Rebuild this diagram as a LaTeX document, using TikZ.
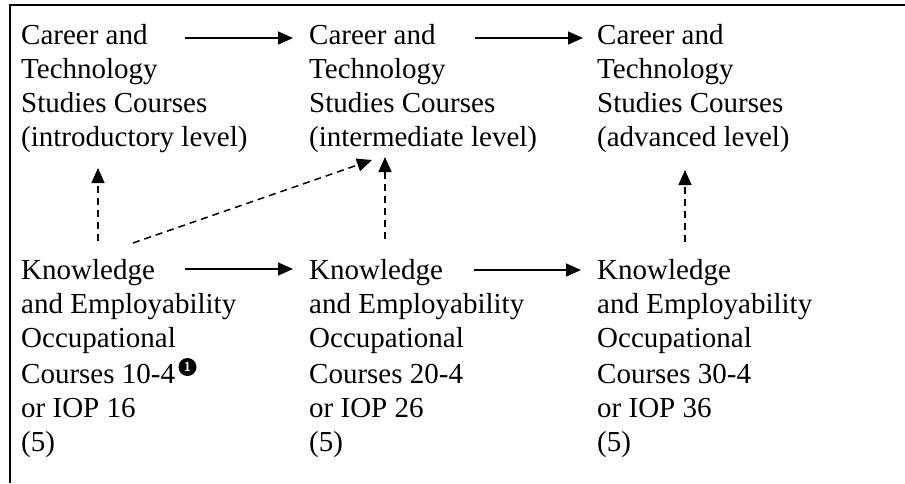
\documentclass[tikz,border=0pt]{standalone}
\usepackage{fontspec}
\setmainfont{Liberation Serif}
\usetikzlibrary{calc}
\usetikzlibrary{arrows.meta}

\begin{document}
\begin{tikzpicture}[x=1pt,y=-1pt,
  >={Triangle[length=15pt,width=13pt]},
  every node/.style={inner sep=0pt, align=left, anchor=base west,
    font=\fontsize{29}{34}\selectfont}]
\useasboundingbox (0,0) rectangle (905,483);
\draw[line width=1.8pt] (905,5.3) -- (9.8,5.3) -- (9.8,483);
% base anchor sits on the last line
\foreach \c/\x/\lvl in {1/21/introductory, 2/309/intermediate, 3/597/advanced} {
 \node (cts\c) at (\x,146) {Career and\\Technology\\Studies Courses\\(\lvl\ level)};
 \node (kes\c) at (\x,451) {Knowledge\\and Employability\\Occupational\\[2pt]Courses \c0-4\\or IOP \c6\\(5)};
}
\node[circle, fill=black, minimum size=18pt, anchor=center, text=white,
  font=\fontsize{13}{13}\sffamily\bfseries] (note) at (187.5,367) {1};
% solid arrows
\coordinate (h1a) at (185,38);  \coordinate (h1b) at (293,38);
\coordinate (h2a) at (475,38);  \coordinate (h2b) at (583,38);
\coordinate (h3a) at (185,269); \coordinate (h3b) at (293,269);
\coordinate (h4a) at (474,270); \coordinate (h4b) at (581,270);
\foreach \i in {1,...,4}
 \draw[line width=1.5pt, ->] (h\i a) -- (h\i b);
% dashed arrows
\coordinate (v1a) at (98,241);  \coordinate (v1b) at (98,168);
\coordinate (v2a) at (385,239); \coordinate (v2b) at (385,157);
\coordinate (v3a) at (685,242); \coordinate (v3b) at (685,170);
\coordinate (v4a) at (133,243); \coordinate (v4b) at (372,160);
\foreach \i in {1,...,4}
 \draw[line width=1.5pt, dash pattern=on 7pt off 5pt, ->] (v\i a) -- (v\i b);
\end{tikzpicture}
\end{document}
